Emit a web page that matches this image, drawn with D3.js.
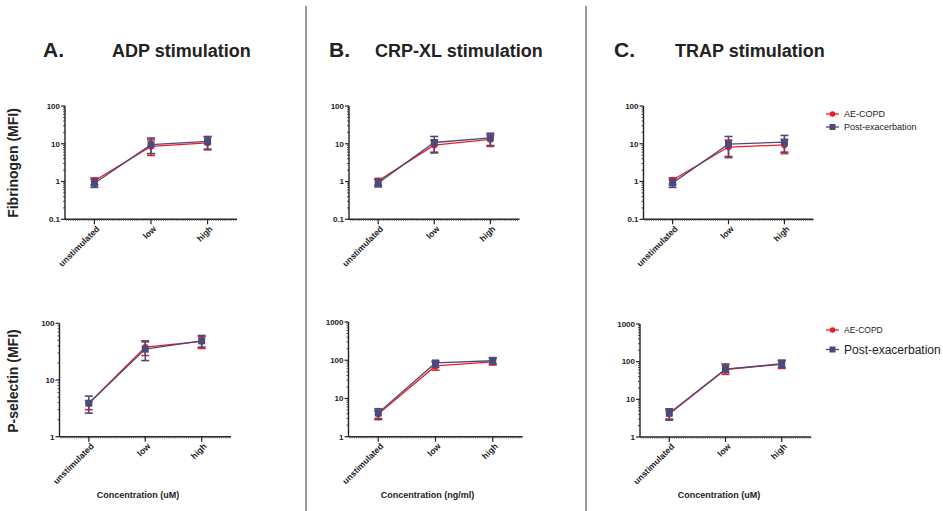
<!DOCTYPE html>
<html>
<head>
<meta charset="utf-8">
<script src="https://cdn.jsdelivr.net/npm/d3@7"></script>
<style>
  html, body { margin: 0; padding: 0; background: #fff; }
  svg { display: block; font-family: "Liberation Sans", Arial, Helvetica, sans-serif; }
</style>
</head>
<body>
<svg id="chart" width="943" height="511"></svg>
<script>
// Stimulation conditions on the x axis
const categories = ["unstimulated", "low", "high"];
const seriesNames = ["AE-COPD", "Post-exacerbation"];

// Each entry: [mean, lower error, upper error] per category (MFI)
const adpFibrinogenAE   = [[1.05, 0.82, 1.25], [8.5, 4.9, 12.7], [10.5, 6.9, 15.0]];
const adpFibrinogenPost = [[0.90, 0.70, 1.15], [9.5, 5.5, 14.2], [11.5, 7.2, 15.6]];
const adpPselectinAE    = [[3.9, 3.0, 4.3], [38, 27, 47], [48, 36, 58]];
const adpPselectinPost  = [[3.9, 2.6, 5.2], [35, 22, 49], [49, 38, 61]];

const crpFibrinogenAE   = [[1.05, 0.80, 1.20], [9.2, 6.0, 12.5], [13.0, 8.5, 17.0]];
const crpFibrinogenPost = [[0.92, 0.72, 1.15], [10.8, 5.7, 15.6], [14.3, 9.0, 19.0]];
const crpPselectinAE    = [[3.9, 3.0, 4.8], [71, 55, 90], [91, 75, 110]];
const crpPselectinPost  = [[4.2, 2.8, 5.4], [85, 65, 96], [97, 80, 117]];

const trapFibrinogenAE   = [[1.10, 0.85, 1.25], [8.2, 4.6, 12.5], [9.3, 5.5, 13.0]];
const trapFibrinogenPost = [[0.92, 0.70, 1.15], [9.8, 4.3, 15.6], [11.0, 6.0, 16.6]];
const trapPselectinAE    = [[4.1, 3.0, 5.2], [62, 46, 80], [85, 66, 105]];
const trapPselectinPost  = [[4.3, 2.8, 5.6], [63, 51, 87], [88, 70, 110]];

// Axis tick labels
const fibrinogenTicks = [0.1, 1, 10, 100];
const pselectinTicksADP = [1, 10, 100];
const pselectinTicks = [1, 10, 100, 1000];

const colors = { ae: "#ec1c24", post: "#4a4a7c" };

const svg = d3.select("#chart");

// Panel frames (axis extents in pixels)
const panels = [
  { x0: 65,    x1: 237,   yTop: 106, yBot: 219.3, domain: [0.1, 100], ticks: fibrinogenTicks, ae: adpFibrinogenAE, post: adpFibrinogenPost },
  { x0: 59.5,  x1: 231,   yTop: 323.3, yBot: 436.7, domain: [1, 100], ticks: pselectinTicksADP, ae: adpPselectinAE, post: adpPselectinPost },
  { x0: 349,   x1: 519.5, yTop: 106, yBot: 219.3, domain: [0.1, 100], ticks: fibrinogenTicks, ae: crpFibrinogenAE, post: crpFibrinogenPost },
  { x0: 348.5, x1: 522.5, yTop: 322, yBot: 436.7, domain: [1, 1000], ticks: pselectinTicks, ae: crpPselectinAE, post: crpPselectinPost },
  { x0: 643.5, x1: 813.5, yTop: 106, yBot: 219.3, domain: [0.1, 100], ticks: fibrinogenTicks, ae: trapFibrinogenAE, post: trapFibrinogenPost },
  { x0: 640,   x1: 811,   yTop: 324, yBot: 437, domain: [1, 1000], ticks: pselectinTicks, ae: trapPselectinAE, post: trapPselectinPost }
];

const fmt = v => (v < 1 ? String(v) : d3.format("d")(v));

panels.forEach(p => {
  const g = svg.append("g");
  const x = d3.scalePoint().domain(categories).range([p.x0, p.x1]).padding(0.52);
  const y = d3.scaleLog().domain(p.domain).range([p.yBot, p.yTop]);

  // y axis: decade ticks with minor ticks in between
  const minor = [];
  const lo = Math.log10(p.domain[0]), hi = Math.log10(p.domain[1]);
  for (let e = lo; e < hi; e++) {
    for (let m = 2; m <= 9; m++) minor.push(m * Math.pow(10, e));
  }
  const yAxis = g.append("g").attr("transform", `translate(${p.x0},0)`);
  yAxis.append("line").attr("x1", 0).attr("x2", 0).attr("y1", p.yTop).attr("y2", p.yBot)
    .attr("stroke", "#222").attr("stroke-width", 1.4);
  yAxis.selectAll("line.minor").data(minor).join("line").attr("class", "minor")
    .attr("x1", -2).attr("x2", 0).attr("y1", d => y(d)).attr("y2", d => y(d))
    .attr("stroke", "#222").attr("stroke-width", 0.8);
  yAxis.selectAll("line.major").data(p.ticks).join("line").attr("class", "major")
    .attr("x1", -4).attr("x2", 0).attr("y1", d => y(d)).attr("y2", d => y(d))
    .attr("stroke", "#222").attr("stroke-width", 1.2);
  yAxis.selectAll("text").data(p.ticks).join("text")
    .attr("x", -5).attr("y", d => y(d)).attr("dy", "0.35em")
    .attr("text-anchor", "end").attr("font-size", 8).attr("font-weight", "bold").attr("fill", "#222")
    .text(fmt);

  // x axis: base line with fine hatch ticks and category ticks
  const xAxis = g.append("g").attr("transform", `translate(0,${p.yBot})`);
  xAxis.append("line").attr("x1", p.x0).attr("x2", p.x1).attr("y1", 0).attr("y2", 0)
    .attr("stroke", "#222").attr("stroke-width", 1.4);
  const hatch = d3.range(p.x0 + 1.5, p.x1, 2.2);
  xAxis.selectAll("line.hatch").data(hatch).join("line").attr("class", "hatch")
    .attr("x1", d => d).attr("x2", d => d).attr("y1", 0).attr("y2", 1.8)
    .attr("stroke", "#555").attr("stroke-width", 0.7);
  xAxis.selectAll("line.cat").data(categories).join("line").attr("class", "cat")
    .attr("x1", d => x(d)).attr("x2", d => x(d)).attr("y1", 0).attr("y2", 5)
    .attr("stroke", "#222").attr("stroke-width", 1.2);
  xAxis.selectAll("text").data(categories).join("text")
    .attr("transform", d => `translate(${x(d) + 3.5},${8}) rotate(-45)`)
    .attr("text-anchor", "end").attr("font-size", 8.6).attr("font-weight", "bold").attr("fill", "#222")
    .attr("dy", "0.35em")
    .text(d => d);

  // series lines, error bars and markers
  const line = d3.line().x((d, i) => x(categories[i])).y(d => y(d[0]));
  [["ae", p.ae], ["post", p.post]].forEach(([key, data]) => {
    g.append("path").datum(data).attr("d", line)
      .attr("fill", "none").attr("stroke", colors[key]).attr("stroke-width", 1.3);
  });
  [["ae", p.ae], ["post", p.post]].forEach(([key, data]) => {
    const s = g.append("g");
    const c = colors[key];
    s.selectAll("line.err").data(data).join("line").attr("class", "err")
      .attr("x1", (d, i) => x(categories[i])).attr("x2", (d, i) => x(categories[i]))
      .attr("y1", d => y(d[1])).attr("y2", d => y(d[2]))
      .attr("stroke", c).attr("stroke-width", 1.5);
    s.selectAll("line.capLo").data(data).join("line").attr("class", "capLo")
      .attr("x1", (d, i) => x(categories[i]) - 4).attr("x2", (d, i) => x(categories[i]) + 4)
      .attr("y1", d => y(d[1])).attr("y2", d => y(d[1]))
      .attr("stroke", c).attr("stroke-width", 1.6);
    s.selectAll("line.capHi").data(data).join("line").attr("class", "capHi")
      .attr("x1", (d, i) => x(categories[i]) - 4).attr("x2", (d, i) => x(categories[i]) + 4)
      .attr("y1", d => y(d[2])).attr("y2", d => y(d[2]))
      .attr("stroke", c).attr("stroke-width", 1.6);
    if (key === "ae") {
      s.selectAll("circle").data(data).join("circle")
        .attr("cx", (d, i) => x(categories[i])).attr("cy", d => y(d[0])).attr("r", 3.2)
        .attr("fill", c);
    } else {
      s.selectAll("rect").data(data).join("rect")
        .attr("x", (d, i) => x(categories[i]) - 3.5).attr("y", d => y(d[0]) - 3.5)
        .attr("width", 7).attr("height", 7).attr("fill", c);
    }
  });
});

// Panel titles
const titles = [
  { letter: "A.", lx: 43, name: "ADP stimulation", nx: 112 },
  { letter: "B.", lx: 329, name: "CRP-XL stimulation", nx: 375 },
  { letter: "C.", lx: 614, name: "TRAP stimulation", nx: 675 }
];
titles.forEach(t => {
  svg.append("text").attr("x", t.lx).attr("y", 57).attr("font-size", 21).attr("font-weight", "bold")
    .attr("fill", "#222").text(t.letter);
  svg.append("text").attr("x", t.nx).attr("y", 57).attr("font-size", 18).attr("font-weight", "bold")
    .attr("fill", "#222").text(t.name);
});

// Y axis titles
svg.append("text").attr("transform", "translate(18,163) rotate(-90)").attr("text-anchor", "middle")
  .attr("font-size", 14).attr("font-weight", "bold").attr("fill", "#222").text("Fibrinogen (MFI)");
svg.append("text").attr("transform", "translate(18,381) rotate(-90)").attr("text-anchor", "middle")
  .attr("font-size", 14).attr("font-weight", "bold").attr("fill", "#222").text("P-selectin (MFI)");

// X axis titles
const xTitles = [
  { cx: 138, text: "Concentration (uM)" },
  { cx: 427.5, text: "Concentration (ng/ml)" },
  { cx: 719, text: "Concentration (uM)" }
];
xTitles.forEach(t => {
  svg.append("text").attr("x", t.cx).attr("y", 498).attr("text-anchor", "middle")
    .attr("font-size", 9).attr("font-weight", "bold").attr("fill", "#222").text(t.text);
});

// Divider lines between panels
[306, 586].forEach(xv => {
  svg.append("line").attr("x1", xv).attr("x2", xv).attr("y1", 6).attr("y2", 511)
    .attr("stroke", "#333").attr("stroke-width", 1);
});

// Legends
const legends = [
  { y: [114, 127], sizes: [9, 9] },
  { y: [330, 349.5], sizes: [8.5, 12] }
];
legends.forEach(L => {
  seriesNames.forEach((name, i) => {
    const key = i === 0 ? "ae" : "post";
    const gy = L.y[i];
    const lg = svg.append("g");
    lg.append("line").attr("x1", 826).attr("x2", 839).attr("y1", gy).attr("y2", gy)
      .attr("stroke", colors[key]).attr("stroke-width", 1.3);
    if (key === "ae") {
      lg.append("circle").attr("cx", 832.5).attr("cy", gy).attr("r", 2.8).attr("fill", colors[key]);
    } else {
      lg.append("rect").attr("x", 829.5).attr("y", gy - 3).attr("width", 6).attr("height", 6).attr("fill", colors[key]);
    }
    lg.append("text").attr("x", 844).attr("y", gy).attr("dy", "0.35em")
      .attr("font-size", L.sizes[i]).attr("fill", "#222").text(name);
  });
});
</script>
</body>
</html>
